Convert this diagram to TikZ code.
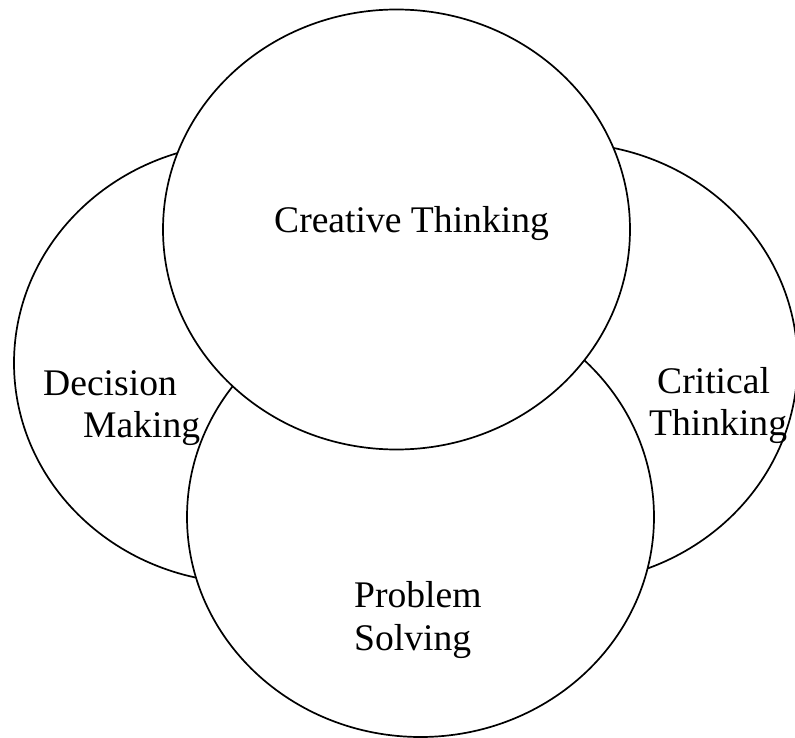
\documentclass[tikz,border=0pt]{standalone}
\usepackage{fontspec}
\setmainfont{Liberation Serif}
\usetikzlibrary{shapes.geometric}
\begin{document}
\begin{tikzpicture}[x=1pt,y=-1pt,
  oval/.style={ellipse,draw=black,fill=white,line width=1.7pt,
    minimum width=467pt,minimum height=440pt,inner sep=0pt},
  lbl/.style={inner sep=0pt,font=\fontsize{37.6}{43}\selectfont,anchor=base west}]
\useasboundingbox (0,0) rectangle (795,738);
% side circles first, then the bottom one, then the top one on top
\node[oval] (decision) at (247.5,363) {};
\node[oval] (critical) at (564,363) {};
\node[oval] (problem)  at (420.5,517) {};
\node[oval] (creative) at (396.5,229.5) {};
% labels, one line per node
\node[lbl] (creativeT) at (274,233) {Creative Thinking};
\node[lbl] (decisionA) at (43,395) {Decision};
\node[lbl] (decisionB) at (83,437) {Making};
\node[lbl] (criticalA) at (657,393) {Critical};
\node[lbl] (criticalB) at (649,435) {Thinking};
\node[lbl] (problemA) at (354,607) {Problem};
\node[lbl] (problemB) at (354,650) {Solving};
\end{tikzpicture}
\end{document}
